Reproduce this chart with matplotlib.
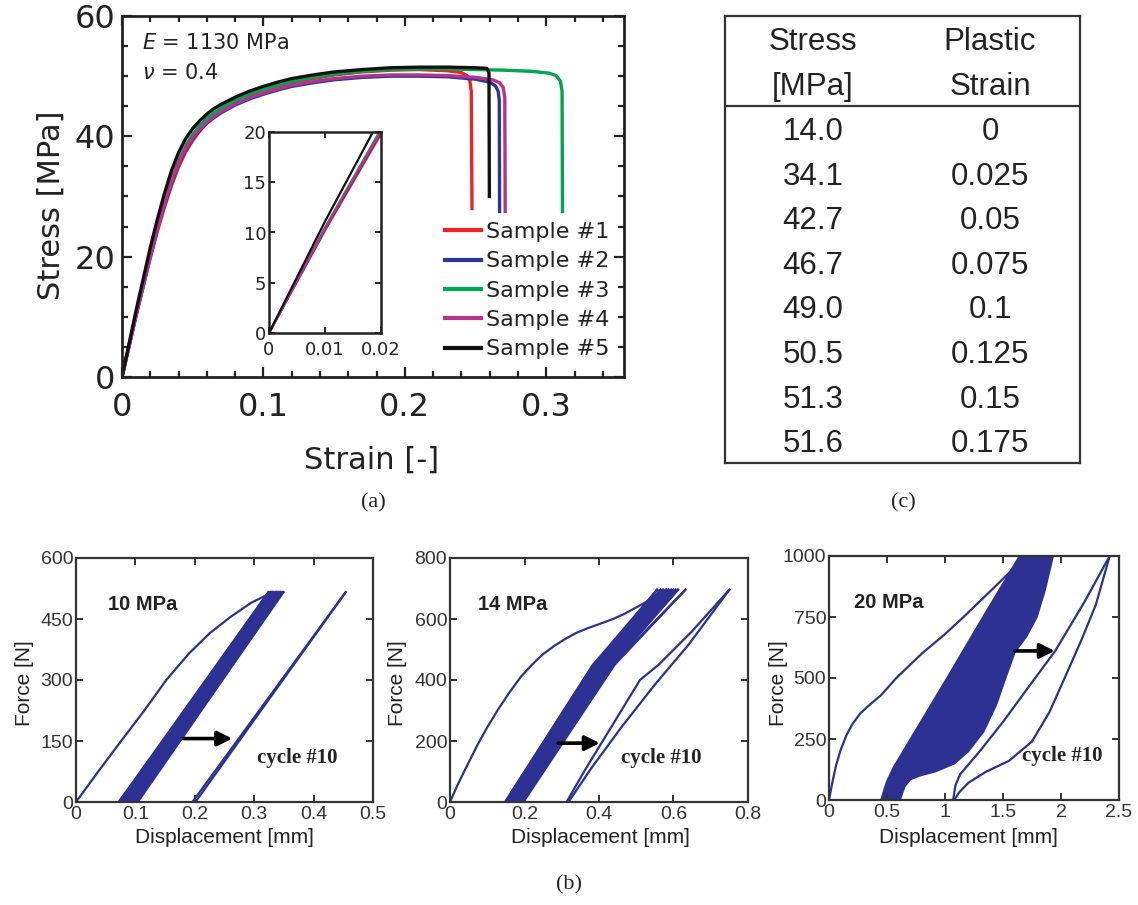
import matplotlib
matplotlib.use('Agg')
import matplotlib.pyplot as plt
from matplotlib.ticker import MultipleLocator
import numpy as np

W, H = 1138, 905
fig = plt.figure(figsize=(W / 100, H / 100), dpi=100)

def ax_px(l, t, r, b):
    return fig.add_axes([l / W, 1 - b / H, (r - l) / W, (b - t) / H])

def ftext(x, y, s, **kw):
    fig.text(x / W, 1 - y / H, s, **kw)

# ---------------- (a) stress-strain data ----------------
sample_labels = ['Sample #1', 'Sample #2', 'Sample #3', 'Sample #4', 'Sample #5']
sample_colors = ['#ec2227', '#2f3497', '#00a551', '#b2348f', '#111111']

s1_strain = [0, 0.01, 0.02, 0.025, 0.03, 0.035, 0.04, 0.045, 0.05, 0.055, 0.06, 0.065, 0.07, 0.08, 0.09, 0.1,
             0.11, 0.12, 0.135, 0.15, 0.17, 0.19, 0.21, 0.23, 0.24, 0.244, 0.246, 0.247, 0.2475]
s1_stress = [0, 10.2, 19.8, 24.2, 28.2, 31.8, 34.9, 37.4, 39.3, 40.9, 42.2, 43.2, 44.1, 45.5, 46.6, 47.5,
             48.3, 48.9, 49.6, 50.2, 50.7, 51.0, 51.1, 50.9, 50.6, 50.1, 49.2, 47.5, 28.0]

s2_strain = [0, 0.01, 0.02, 0.025, 0.03, 0.035, 0.04, 0.045, 0.05, 0.055, 0.06, 0.065, 0.07, 0.08, 0.09, 0.1,
             0.11, 0.12, 0.135, 0.15, 0.17, 0.19, 0.21, 0.23, 0.25, 0.26, 0.264, 0.266, 0.2668, 0.267]
s2_stress = [0, 10.3, 20.0, 24.5, 28.6, 32.3, 35.4, 37.8, 39.6, 41.0, 42.2, 43.1, 43.9, 45.2, 46.2, 47.0,
             47.7, 48.3, 48.9, 49.4, 49.8, 50.0, 50.0, 49.9, 49.5, 49.0, 48.4, 47.5, 46.0, 27.5]

s3_strain = [0, 0.01, 0.02, 0.025, 0.03, 0.035, 0.04, 0.045, 0.05, 0.055, 0.06, 0.065, 0.07, 0.08, 0.09, 0.1,
             0.11, 0.12, 0.135, 0.15, 0.17, 0.19, 0.21, 0.23, 0.25, 0.27, 0.29, 0.302, 0.307, 0.31, 0.3112,
             0.3115]
s3_stress = [0, 10.5, 20.3, 24.9, 29.0, 32.8, 35.9, 38.4, 40.3, 41.8, 43.0, 43.9, 44.7, 46.0, 47.0, 47.8,
             48.5, 49.1, 49.8, 50.3, 50.8, 51.1, 51.2, 51.2, 51.1, 51.0, 50.8, 50.5, 50.1, 49.2, 47.5, 27.5]

s4_strain = [0, 0.01, 0.02, 0.025, 0.03, 0.035, 0.04, 0.045, 0.05, 0.055, 0.06, 0.065, 0.07, 0.08, 0.09, 0.1,
             0.11, 0.12, 0.135, 0.15, 0.17, 0.19, 0.21, 0.23, 0.25, 0.262, 0.267, 0.2695, 0.2707, 0.271]
s4_stress = [0, 10.4, 20.1, 24.6, 28.8, 32.5, 35.6, 38.0, 39.8, 41.2, 42.4, 43.3, 44.1, 45.4, 46.4, 47.2,
             47.9, 48.5, 49.1, 49.6, 50.0, 50.2, 50.2, 50.1, 49.8, 49.4, 48.9, 48.2, 46.5, 27.5]

s5_strain = [0, 0.01, 0.02, 0.025, 0.03, 0.035, 0.04, 0.045, 0.05, 0.055, 0.06, 0.065, 0.07, 0.08, 0.09, 0.1,
             0.11, 0.12, 0.135, 0.15, 0.17, 0.19, 0.21, 0.23, 0.25, 0.258, 0.2595, 0.2598]
s5_stress = [0, 11.1, 21.5, 26.2, 30.5, 34.3, 37.3, 39.6, 41.3, 42.6, 43.7, 44.6, 45.3, 46.5, 47.5, 48.3,
             49.0, 49.6, 50.2, 50.7, 51.1, 51.4, 51.5, 51.5, 51.4, 51.3, 50.6, 30.0]

samples_strain = [s1_strain, s2_strain, s3_strain, s4_strain, s5_strain]
samples_stress = [s1_stress, s2_stress, s3_stress, s4_stress, s5_stress]

a_xticks = [0, 0.1, 0.2, 0.3]
a_xticklabels = ['0', '0.1', '0.2', '0.3']
a_yticks = [0, 20, 40, 60]
inset_xticks = [0, 0.01, 0.02]
inset_xticklabels = ['0', '0.01', '0.02']
inset_yticks = [0, 5, 10, 15, 20]

# ---------------- (c) table data ----------------
table_header_1 = ['Stress', '[MPa]']
table_header_2 = ['Plastic', 'Strain']
table_stress = ['14.0', '34.1', '42.7', '46.7', '49.0', '50.5', '51.3', '51.6']
table_plastic = ['0', '0.025', '0.05', '0.075', '0.1', '0.125', '0.15', '0.175']

# ---------------- (b) cyclic data ----------------
# 10 MPa
b1_first_x = [0, 0.04, 0.077, 0.115, 0.152, 0.19, 0.225, 0.26, 0.295, 0.331]
b1_first_f = [0, 80, 152, 225, 300, 365, 415, 455, 490, 516]
b1_fmax = 516
b1_res = [0.072, 0.075, 0.078, 0.081, 0.084, 0.087, 0.090, 0.093, 0.096, 0.099, 0.102, 0.104]
b1_peak = [0.331, 0.324, 0.327, 0.330, 0.333, 0.336, 0.338, 0.340, 0.342, 0.344, 0.347, 0.349]
b1_c10_x1 = [0.196, 0.454]
b1_c10_f1 = [0, 516]
b1_c10_x2 = [0.454, 0.201]
b1_c10_f2 = [516, 0]

# 14 MPa
b2_first_x = [0, 0.02, 0.04, 0.075, 0.10, 0.13, 0.16, 0.19, 0.22, 0.25, 0.28, 0.31, 0.34, 0.37, 0.40,
              0.438, 0.47, 0.50, 0.54, 0.582]
b2_first_f = [0, 55, 105, 190, 245, 305, 360, 410, 450, 485, 512, 535, 555, 570, 583,
              600, 618, 638, 665, 696]
b2_fmax = 696
b2_knee_f = 450
b2_res = [0.148, 0.153, 0.158, 0.163, 0.168, 0.173, 0.178, 0.183, 0.188, 0.193, 0.197]
b2_knee = [0.384, 0.390, 0.396, 0.402, 0.408, 0.414, 0.420, 0.426, 0.432, 0.437, 0.442]
b2_peak = [0.582, 0.556, 0.565, 0.572, 0.580, 0.587, 0.594, 0.600, 0.606, 0.612, 0.632]
b2_c10_x1 = [0.313, 0.36, 0.41, 0.47, 0.51, 0.56, 0.65, 0.750]
b2_c10_f1 = [0, 100, 200, 320, 400, 450, 560, 696]
b2_c10_x2 = [0.750, 0.64, 0.55, 0.46, 0.38, 0.318]
b2_c10_f2 = [696, 515, 385, 245, 112, 0]

# 20 MPa
b3_first_x = [0, 0.03, 0.06, 0.10, 0.15, 0.20, 0.27, 0.35, 0.45, 0.58, 0.80, 1.00, 1.16, 1.40, 1.70]
b3_first_f = [0, 75, 140, 205, 265, 310, 355, 390, 430, 500, 600, 680, 750, 860, 1000]
b3_band_left_x = [0.45, 0.50, 0.56, 1.02, 1.33, 1.645]
b3_band_left_f = [0, 75, 135, 500, 750, 1000]
b3_band_right_x = [1.93, 1.86, 1.79, 1.70, 1.60, 1.52, 1.44, 1.33, 1.20, 1.08, 0.92, 0.78, 0.70, 0.65, 0.61]
b3_band_right_f = [1000, 860, 750, 670, 606, 500, 390, 280, 200, 150, 118, 100, 85, 55, 0]
# individual cycle peaks near the top of the band
b3_top_peak = [1.66, 1.70, 1.74, 1.79, 1.84, 1.88]
b3_top_low_x = [1.38, 1.43, 1.47, 1.52, 1.56, 1.61]
b3_top_low_f = [750, 740, 720, 700, 690, 680]
b3_c10_x1 = [1.07, 1.09, 1.13, 1.30, 1.50, 1.70, 1.95, 2.20, 2.42]
b3_c10_f1 = [0, 60, 105, 200, 320, 450, 611, 810, 1000]
b3_c10_x2 = [2.42, 2.30, 2.18, 2.05, 1.90, 1.75, 1.55, 1.35, 1.20, 1.12, 1.08]
b3_c10_f2 = [1000, 800, 660, 520, 360, 240, 160, 115, 70, 30, 0]

BLUE = '#2c3193'
INK = '#222222'

# =============== draw (a) ===============
ax = ax_px(122, 16, 624, 377)
for xs, ys, c, lab in zip(samples_strain, samples_stress, sample_colors, sample_labels):
    ax.plot(xs, ys, color=c, lw=2.4, label=lab, solid_joinstyle='round')
ax.set_xlim(0, 0.355)
ax.set_ylim(0, 60)
ax.set_xticks(a_xticks)
ax.set_xticklabels(a_xticklabels)
ax.set_yticks(a_yticks)
ax.xaxis.set_minor_locator(MultipleLocator(0.02))
ax.yaxis.set_minor_locator(MultipleLocator(5))
ax.tick_params(which='both', direction='in', top=True, right=True, width=1.6, colors=INK)
ax.tick_params(which='major', length=7)
ax.tick_params(which='minor', length=4)
ax.tick_params(axis='x', which='major', labelsize=23, pad=11)
ax.tick_params(axis='y', which='major', labelsize=23, pad=5)
for sp in ax.spines.values():
    sp.set_linewidth(2.0)
    sp.set_color(INK)
ftext(51, 205, 'Stress [MPa]', rotation=90, ha='center', va='center', fontsize=22, color=INK)
ftext(372, 460, 'Strain [-]', ha='center', va='center', fontsize=22, color=INK)
ftext(142, 43, r'$E$ = 1130 MPa', ha='left', va='center', fontsize=15, color=INK)
ftext(142, 73, r'$\nu$ = 0.4', ha='left', va='center', fontsize=15, color=INK)

leg = ax.legend(loc='upper left', bbox_to_anchor=(445 / W, 1 - 222 / H), bbox_transform=fig.transFigure,
                frameon=False, fontsize=16, handlelength=1.6, handletextpad=0.25, labelspacing=0.42,
                borderpad=0, borderaxespad=0)
for t in leg.get_texts():
    t.set_color(INK)
for l in leg.get_lines():
    l.set_linewidth(3)

axi = ax_px(269, 132, 381, 333)
for xs, ys, c in zip(samples_strain, samples_stress, sample_colors):
    axi.plot(xs, ys, color=c, lw=1.6)
axi.set_xlim(0, 0.02)
axi.set_ylim(0, 20)
axi.set_xticks(inset_xticks)
axi.set_xticklabels(inset_xticklabels)
axi.set_yticks(inset_yticks)
axi.tick_params(direction='in', top=True, right=True, length=4, width=1.4, labelsize=13, colors=INK)
axi.tick_params(axis='x', pad=6)
axi.tick_params(axis='y', pad=2)
for sp in axi.spines.values():
    sp.set_linewidth(1.8)
    sp.set_color(INK)

# =============== draw (c) table ===============
axt = ax_px(725, 16, 1080, 463)
axt.set_xlim(0, 355)
axt.set_ylim(447, 0)
axt.set_xticks([])
axt.set_yticks([])
for sp in axt.spines.values():
    sp.set_linewidth(1.6)
    sp.set_color('#333333')
col_x = [88, 265]
head_y = [26, 71]
row_y0, row_dy = 116, 44.6
axt.axhline(90, color='#333333', lw=1.6)
tfont = dict(fontsize=22.5, family=['Liberation Sans', 'DejaVu Sans'], color=INK,
             ha='center', va='center')
for i in range(2):
    axt.text(col_x[0], head_y[i], table_header_1[i], **tfont)
    axt.text(col_x[1], head_y[i], table_header_2[i], **tfont)
for i, (s, p) in enumerate(zip(table_stress, table_plastic)):
    axt.text(col_x[0], row_y0 + i * row_dy, s, **tfont)
    axt.text(col_x[1], row_y0 + i * row_dy, p, **tfont)

# =============== draw (b) ===============
narrow = ['Liberation Sans Narrow', 'Liberation Sans']

def style_b(a, xlim, xt, ylim, yt):
    a.set_xlim(*xlim)
    a.set_ylim(*ylim)
    a.set_xticks(xt)
    a.set_yticks(yt)
    a.set_xticklabels([('%g' % v) for v in xt])
    a.set_yticklabels([('%g' % v) for v in yt])
    a.tick_params(direction='in', top=True, right=True, length=5, width=1.4, colors='#333333')
    a.tick_params(axis='x', pad=3)
    a.tick_params(axis='y', pad=2)
    for lb in a.get_xticklabels() + a.get_yticklabels():
        lb.set_fontfamily(narrow)
        lb.set_fontsize(14)
        lb.set_color('#333333')
    for sp in a.spines.values():
        sp.set_linewidth(1.6)
        sp.set_color('#333333')

lab_font = dict(fontsize=15, family=['Liberation Sans', 'DejaVu Sans'], color=INK)
bold_font = dict(fontsize=14.5, family=['Liberation Sans', 'DejaVu Sans'], fontweight='bold', color=INK)
cyc_font = dict(fontsize=15, family=['Liberation Serif', 'DejaVu Serif'], fontweight='bold', color=INK)
arrow_kw = dict(arrowstyle='-|>', color='black', lw=2.6, mutation_scale=22, shrinkA=0, shrinkB=0)
LW = 1.6

# b1
b1 = ax_px(76, 558, 373, 802)
b1.plot(b1_first_x, b1_first_f, color=BLUE, lw=LW)
for k in range(len(b1_res)):
    b1.plot([b1_peak[k], b1_res[k]], [b1_fmax, 0], color=BLUE, lw=LW)
    if k + 1 < len(b1_peak):
        b1.plot([b1_res[k], b1_peak[k + 1]], [0, b1_fmax], color=BLUE, lw=LW)
b1.plot(b1_c10_x1, b1_c10_f1, color=BLUE, lw=LW)
b1.plot(b1_c10_x2, b1_c10_f2, color=BLUE, lw=LW)
style_b(b1, (0, 0.5), [0, 0.1, 0.2, 0.3, 0.4, 0.5], (0, 600), [0, 150, 300, 450, 600])
b1.text(0.107, 0.81, '10 MPa', transform=b1.transAxes, ha='left', va='center', **bold_font)
b1.text(0.61, 0.18, 'cycle #10', transform=b1.transAxes, ha='left', va='center', **cyc_font)
b1.annotate('', xy=(0.263, 156), xytext=(0.181, 156), arrowprops=arrow_kw)
ftext(224, 837, 'Displacement [mm]', ha='center', va='center', **lab_font)
ftext(24, 683, 'Force [N]', rotation=90, ha='center', va='center', **lab_font)

# b2
b2 = ax_px(450, 558, 748, 802)
b2.plot(b2_first_x, b2_first_f, color=BLUE, lw=LW)
for k in range(len(b2_res)):
    b2.plot([b2_peak[k], b2_knee[k], b2_res[k]], [b2_fmax, b2_knee_f, 0], color=BLUE, lw=LW)
    if k + 1 < len(b2_peak):
        b2.plot([b2_res[k], b2_knee[k], b2_peak[k + 1]], [0, b2_knee_f, b2_fmax], color=BLUE, lw=LW)
b2.plot(b2_c10_x1, b2_c10_f1, color=BLUE, lw=LW)
b2.plot(b2_c10_x2, b2_c10_f2, color=BLUE, lw=LW)
style_b(b2, (0, 0.8), [0, 0.2, 0.4, 0.6, 0.8], (0, 800), [0, 200, 400, 600, 800])
b2.text(0.095, 0.81, '14 MPa', transform=b2.transAxes, ha='left', va='center', **bold_font)
b2.text(0.575, 0.18, 'cycle #10', transform=b2.transAxes, ha='left', va='center', **cyc_font)
b2.annotate('', xy=(0.402, 193), xytext=(0.29, 193), arrowprops=arrow_kw)
ftext(600, 837, 'Displacement [mm]', ha='center', va='center', **lab_font)
ftext(398, 683, 'Force [N]', rotation=90, ha='center', va='center', **lab_font)

# b3
b3 = ax_px(829, 556, 1119, 800)
b3.plot(b3_first_x, b3_first_f, color=BLUE, lw=LW)
b3.fill(b3_band_left_x + b3_band_right_x, b3_band_left_f + b3_band_right_f, color=BLUE, lw=LW)
for px, lx, lf in zip(b3_top_peak, b3_top_low_x, b3_top_low_f):
    b3.plot([lx, px], [lf, 1000], color=BLUE, lw=LW)
b3.plot(b3_c10_x1, b3_c10_f1, color=BLUE, lw=LW)
b3.plot(b3_c10_x2, b3_c10_f2, color=BLUE, lw=LW)
style_b(b3, (0, 2.5), [0, 0.5, 1, 1.5, 2, 2.5], (0, 1000), [0, 250, 500, 750, 1000])
b3.text(0.085, 0.81, '20 MPa', transform=b3.transAxes, ha='left', va='center', **bold_font)
b3.text(0.665, 0.18, 'cycle #10', transform=b3.transAxes, ha='left', va='center', **cyc_font)
b3.annotate('', xy=(1.946, 611), xytext=(1.60, 611), arrowprops=arrow_kw)
ftext(968, 837, 'Displacement [mm]', ha='center', va='center', **lab_font)
ftext(779, 683, 'Force [N]', rotation=90, ha='center', va='center', **lab_font)

# panel letters
serif = ['Liberation Serif', 'DejaVu Serif']
ftext(373, 503, '(a)', ha='center', va='center', fontsize=16, family=serif, color=INK)
ftext(903, 503, '(c)', ha='center', va='center', fontsize=16, family=serif, color=INK)
ftext(569, 885, '(b)', ha='center', va='center', fontsize=16, family=serif, color=INK)

fig.savefig('out.png', dpi=100)
